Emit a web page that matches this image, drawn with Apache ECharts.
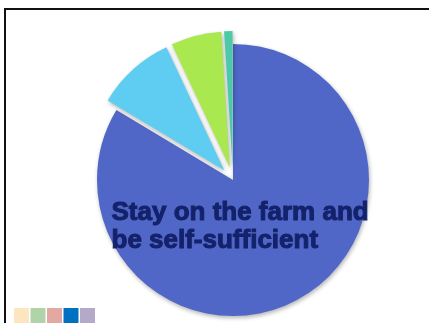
<!DOCTYPE html>
<html>
<head>
<meta charset="utf-8">
<script src="https://cdn.jsdelivr.net/npm/echarts@6/dist/echarts.min.js"></script>
<style>
  html, body { margin: 0; padding: 0; background: #fff; }
  #chart { width: 429px; height: 323px; }
</style>
</head>
<body>
<div id="chart"></div>
<script>
const sliceNames = ['Stay on the farm and be self-sufficient', 'Option 2', 'Option 3', 'Option 4'];
const sliceValues = [83.6, 9.4, 6.0, 1.0];
const sliceColors = ['#5067C8', '#5FCDF1', '#A9E84F', '#4CCAA8'];
const swatchColors = ['#FDE5C0', '#B1D3A9', '#E3A8A1', '#0070C0', '#B5A9C9'];

const chart = echarts.init(document.getElementById('chart'));

const swatches = swatchColors.map((c, i) => ({
  type: 'rect',
  shape: { x: 14 + i * 16.5, y: 308, width: 15, height: 15 },
  style: { fill: c }
}));

chart.setOption({
  animation: false,
  series: [
    {
      type: 'pie',
      center: [233, 180],
      radius: 136,
      startAngle: 90,
      selectedMode: 'multiple',
      selectedOffset: 13,
      label: { show: false },
      labelLine: { show: false },
      itemStyle: {
        shadowBlur: 4,
        shadowOffsetX: 1,
        shadowOffsetY: 2,
        shadowColor: 'rgba(0,0,0,0.3)'
      },
      data: sliceValues.map((v, i) => ({
        name: sliceNames[i],
        value: v,
        selected: i > 0,
        itemStyle: { color: sliceColors[i] }
      }))
    }
  ],
  graphic: [
    {
      type: 'rect',
      shape: { x: 5, y: 9, width: 500, height: 400 },
      style: { fill: null, stroke: '#111', lineWidth: 2 }
    },
    ...swatches,
    {
      type: 'text',
      left: 111,
      top: 199,
      z: 100,
      style: {
        text: 'Stay on the farm and\nbe self-sufficient',
        font: 'bold 26px "Liberation Sans", Arial, sans-serif',
        lineHeight: 28,
        fill: '#13226A',
        stroke: '#13226A',
        lineWidth: 1,
        shadowColor: 'rgba(0,0,0,0.5)',
        shadowBlur: 2,
        shadowOffsetX: 2,
        shadowOffsetY: 2
      }
    }
  ]
});
</script>
</body>
</html>
